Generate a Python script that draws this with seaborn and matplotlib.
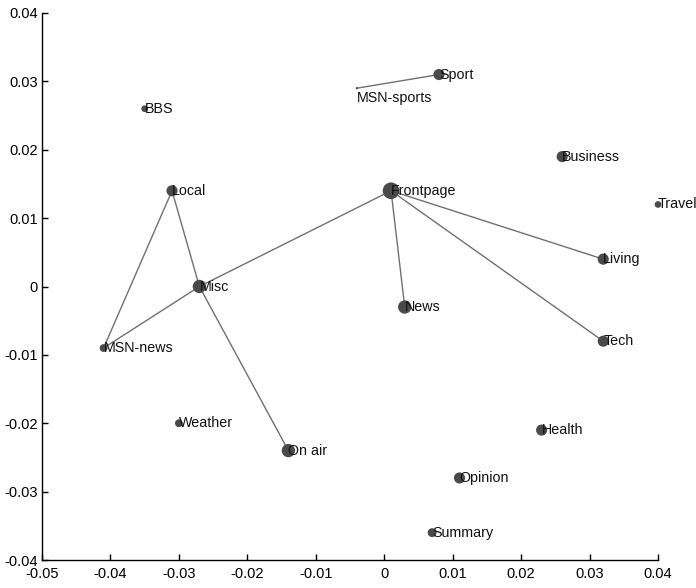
import matplotlib
matplotlib.use("Agg")
import matplotlib.pyplot as plt
from matplotlib.ticker import FuncFormatter
import seaborn as sns
import pandas as pd

# node data
names = ["BBS", "Sport", "MSN-sports", "Business", "Frontpage", "Travel", "Local",
         "Misc", "Living", "News", "MSN-news", "Tech", "Weather", "Health",
         "On air", "Opinion", "Summary"]
xs = [-0.035, 0.008, -0.004, 0.026, 0.001, 0.040, -0.031,
      -0.027, 0.032, 0.003, -0.041, 0.032, -0.030, 0.023,
      -0.014, 0.011, 0.007]
ys = [0.026, 0.031, 0.029, 0.019, 0.014, 0.012, 0.014,
      0.000, 0.004, -0.003, -0.009, -0.008, -0.020, -0.021,
      -0.024, -0.028, -0.036]
weights = [6, 10, 2, 10, 15, 6, 10,
           12, 10, 12, 7, 10, 7, 10,
           12, 10, 8]
edges = [("Sport", "MSN-sports"), ("Frontpage", "Misc"), ("Frontpage", "News"),
         ("Frontpage", "Living"), ("Frontpage", "Tech"), ("Local", "Misc"),
         ("Local", "MSN-news"), ("Misc", "MSN-news"), ("Misc", "On air")]

df = pd.DataFrame({"name": names, "x": xs, "y": ys, "w": weights})
df["s"] = (df["w"] * 0.8) ** 2
pos = df.set_index("name")

sns.set_style("white")
plt.rcParams["font.family"] = ["Liberation Sans", "DejaVu Sans"]

fig = plt.figure(figsize=(6.96, 5.88), dpi=100)
ax = fig.add_axes([0.0603, 0.0476, 0.8851, 0.9303])

# edges
for a, b in edges:
    ax.plot([pos.loc[a, "x"], pos.loc[b, "x"]], [pos.loc[a, "y"], pos.loc[b, "y"]],
            color="#707070", lw=1.0, zorder=1)

sc = sns.scatterplot(data=df, x="x", y="y", s=df["s"], color="#4a4a4a",
                     linewidth=0, legend=False, ax=ax, zorder=2, clip_on=False)

# labels
for _, r in df.iterrows():
    if r["name"] == "MSN-sports":
        ax.text(r["x"], r["y"] - 0.0004, r["name"], ha="left", va="top",
                fontsize=10.3, color="#111111", zorder=3)
    else:
        ax.text(r["x"], r["y"], r["name"], ha="left", va="center",
                fontsize=10.3, color="#111111", zorder=3)

ax.set_xlim(-0.05, 0.04)
ax.set_ylim(-0.04, 0.04)
ax.set_xticks([-0.05, -0.04, -0.03, -0.02, -0.01, 0, 0.01, 0.02, 0.03, 0.04])
ax.set_yticks([-0.04, -0.03, -0.02, -0.01, 0, 0.01, 0.02, 0.03, 0.04])
fmt = FuncFormatter(lambda v, p: "0" if abs(v) < 1e-9 else "%g" % v)
ax.xaxis.set_major_formatter(fmt)
ax.yaxis.set_major_formatter(fmt)
ax.set_xlabel("")
ax.set_ylabel("")
ax.tick_params(direction="in", length=4, width=1, labelsize=10.5, colors="black",
               bottom=True, left=True)
ax.tick_params(axis="x", pad=5)
ax.tick_params(axis="y", pad=3)
for side in ["top", "right"]:
    ax.spines[side].set_visible(False)
for side in ["left", "bottom"]:
    ax.spines[side].set_color("black")
    ax.spines[side].set_linewidth(1)

fig.savefig("out.png", dpi=100)
